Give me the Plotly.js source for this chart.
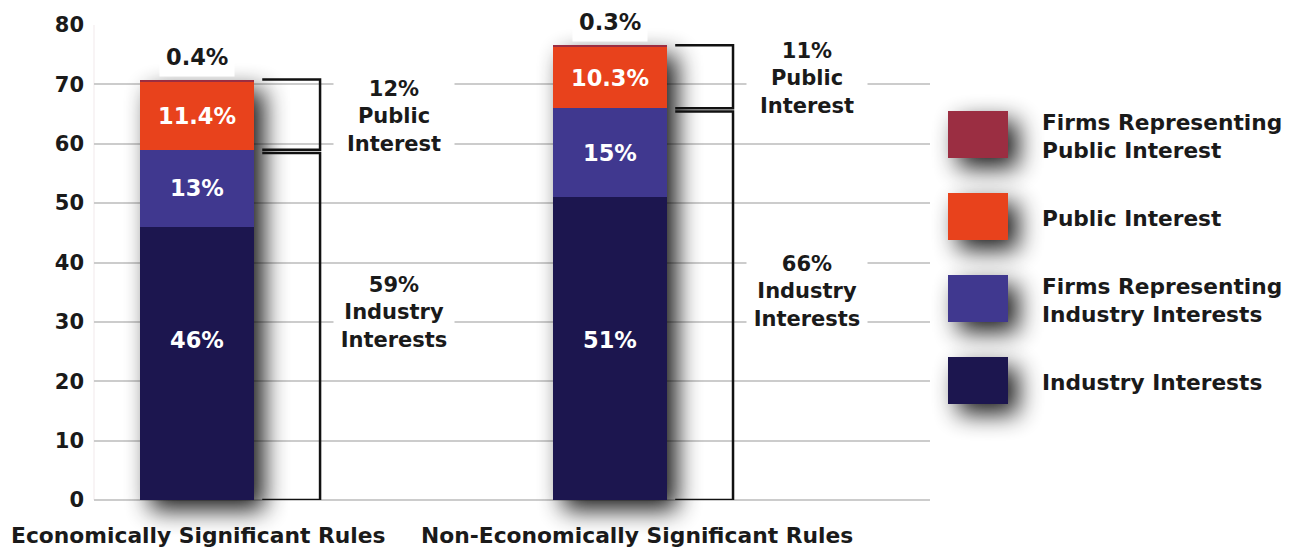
<!DOCTYPE html>
<html>
<head>
<meta charset="utf-8">
<script src="https://cdn.plot.ly/plotly-3.0.1.min.js"></script>
<style>
html,body{margin:0;padding:0;background:#fff;}
#chart{width:1290px;height:550px;}
#chart .cartesianlayer .plot, #chart .cartesianlayer .overplot, #chart .cartesianlayer .subplot { clip-path: none !important; }
#chart .barlayer { filter: url(#dshadow); }
</style>
</head>
<body>
<svg width="0" height="0" style="position:absolute">
  <defs>
    <filter id="dshadow" filterUnits="userSpaceOnUse" x="-200" y="-200" width="2000" height="1000">
      <feGaussianBlur in="SourceAlpha" stdDeviation="12"/>
      <feOffset dx="10" dy="10" result="off"/>
      <feComponentTransfer><feFuncA type="linear" slope="0.9"/></feComponentTransfer>
      <feMerge><feMergeNode/><feMergeNode in="SourceGraphic"/></feMerge>
    </filter>
  </defs>
</svg>
<div id="chart"></div>
<script>
// ---- data ----
const categories = ['Economically Significant Rules', 'Non-Economically Significant Rules'];
const industryInterests = [46, 51];
const firmsIndustry = [13, 15];
const publicInterest = [11.4, 10.3];
const firmsPublic = [0.4, 0.3];
const publicTotals = [12, 11];
const industryTotals = [59, 66];
const seriesNames = ['Industry Interests', 'Firms Representing<br>Industry Interests', 'Public Interest', 'Firms Representing<br>Public Interest'];
const seriesColors = ['#1e1850', '#41398f', '#e8421c', '#9b2f42'];
const yTicks = [0, 10, 20, 30, 40, 50, 60, 70, 80];

// ---- layout helpers ----
const FONT = '"DejaVu Sans", Verdana, sans-serif';
const DARK = '#1a1a1a';
const FS = 21;
const xs = categories.map((c, i) => i);
const W = 0.276;
const series = [industryInterests, firmsIndustry, publicInterest, firmsPublic];

const traces = series.map((vals, k) => ({
  type: 'bar', x: xs, y: vals, width: W, name: seriesNames[k],
  marker: {color: seriesColors[k], line: {width: 0}},
  cliponaxis: false, hoverinfo: 'skip', showlegend: false
}));

const annotations = [];
const shapes = [];
const fmt = v => v + '%';
const f = (c, s) => ({family: FONT, size: s || FS, color: c || DARK, weight: 700});

xs.forEach(i => {
  const s1 = industryInterests[i];
  const s2 = s1 + firmsIndustry[i];
  const s3 = s2 + publicInterest[i];
  const s4 = s3 + firmsPublic[i];
  // in-bar labels
  annotations.push({x: i, y: 27, text: fmt(industryInterests[i]), showarrow: false, font: f('#ffffff', 22.5)});
  annotations.push({x: i, y: (s1 + s2) / 2, text: fmt(firmsIndustry[i]), showarrow: false, font: f('#ffffff', 22.5)});
  annotations.push({x: i, y: (s2 + s3) / 2, text: fmt(publicInterest[i]), showarrow: false, font: f('#ffffff', 22.5)});
  annotations.push({x: i, y: s4, yshift: 23, yanchor: 'middle', text: fmt(firmsPublic[i]), showarrow: false,
    bgcolor: '#ffffff', borderpad: 6, font: f(DARK, 22.5)});
  // brackets
  const bx0 = i + W / 2 + 0.02;
  const bx1 = i + W / 2 + 0.16;
  const gap = 0.55;
  [[s4, s2], [s2 - gap, 0]].forEach(([top, bot]) => {
    shapes.push({type: 'path', xref: 'x', yref: 'y',
      path: `M ${bx0} ${top} L ${bx1} ${top} L ${bx1} ${bot} L ${bx0} ${bot}`,
      line: {color: '#111111', width: 2.5}});
  });
  // bracket labels
  annotations.push({x: i + 0.477, y: (s4 + s2) / 2, yshift: -2, text: fmt(publicTotals[i]) + '<br>Public<br>Interest',
    showarrow: false, align: 'center', bgcolor: '#ffffff', width: 112, borderpad: 4, font: f()});
  annotations.push({x: i + 0.477, y: (s2 - gap) / 2, yshift: 14, text: fmt(industryTotals[i]) + '<br>Industry<br>Interests',
    showarrow: false, align: 'center', bgcolor: '#ffffff', width: 112, borderpad: 4, font: f()});
  // category labels
  annotations.push({x: i, xshift: i === 0 ? 1 : 27, xref: 'x', yref: 'paper', y: 0, yshift: -35, yanchor: 'middle',
    text: categories[i], showarrow: false, font: f(DARK, 21.8)});
});

// faint left edge line
shapes.push({type: 'line', xref: 'paper', yref: 'paper', x0: 0, x1: 0, y0: 0, y1: 1,
  line: {color: '#f1e9eb', width: 1}, layer: 'below'});

// custom legend (top to bottom: reversed stack order)
const legX0 = (948 - 94) / 836, legX1 = (1008 - 94) / 836, legTextX = (1040 - 94) / 836;
const legTops = [111, 193, 275, 357];
const legendStart = shapes.length;
[3, 2, 1, 0].forEach((k, j) => {
  const top = legTops[j], bot = top + 47;
  shapes.push({type: 'rect', xref: 'paper', yref: 'paper', x0: legX0, x1: legX1,
    y0: (500 - bot) / 475, y1: (500 - top) / 475,
    fillcolor: seriesColors[k], line: {width: 0}});
  annotations.push({xref: 'paper', yref: 'paper', x: legTextX, xanchor: 'left', y: (500 - (top + 25)) / 475,
    yanchor: 'middle', align: 'left', text: seriesNames[k], showarrow: false, font: f(DARK, 21.7)});
});

const layout = {
  width: 1290, height: 550,
  margin: {l: 94, r: 360, t: 25, b: 50},
  paper_bgcolor: '#ffffff', plot_bgcolor: '#ffffff',
  barmode: 'stack', showlegend: false,
  xaxis: {range: [-0.2494, 1.775], showticklabels: false, showgrid: false, zeroline: false, ticks: '', showline: false, fixedrange: true},
  yaxis: {range: [0, 80], tickvals: yTicks, showgrid: true, gridcolor: '#cccccc', gridwidth: 2,
    zeroline: true, zerolinecolor: '#cccccc', zerolinewidth: 2, showline: false, ticks: '',
    ticklabelstandoff: 9, tickfont: f(DARK, 21)},
  shapes: shapes, annotations: annotations
};

function applyEffects() {
  document.querySelectorAll('#chart .cartesianlayer [clip-path]').forEach(el => el.removeAttribute('clip-path'));
  const bl = document.querySelector('#chart .barlayer');
  if (bl) bl.setAttribute('filter', 'url(#dshadow)');
  document.querySelectorAll('#chart .shapelayer path').forEach(el => {
    const idx = +el.getAttribute('data-index');
    if (idx >= legendStart) el.setAttribute('filter', 'url(#dshadow)');
  });
}

Plotly.newPlot('chart', traces, layout, {staticPlot: true, displayModeBar: false}).then(() => {
  applyEffects();
  setTimeout(applyEffects, 50);
  setTimeout(applyEffects, 300);
});
</script>
</body>
</html>
